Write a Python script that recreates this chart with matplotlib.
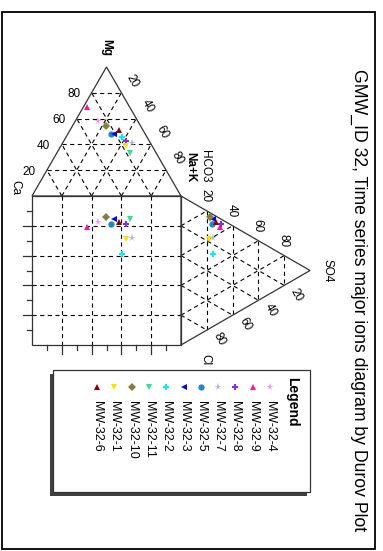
import matplotlib
matplotlib.use("Agg")
import matplotlib.pyplot as plt
from matplotlib.patches import Rectangle, Polygon

plt.rcParams['font.family'] = ['Liberation Sans', 'DejaVu Sans']
plt.rcParams['lines.scale_dashes'] = False

# ---------------- data ----------------
samples = ["MW-32-4", "MW-32-9", "MW-32-8", "MW-32-7", "MW-32-5", "MW-32-3",
           "MW-32-2", "MW-32-11", "MW-32-10", "MW-32-1", "MW-32-6"]
# cation percentages
ca  = [26.3, 28.3, 15.7, 12.6, 23.4, 20.9, 17.1, 17.4, 23.7, 17.6, 15.8]
mg  = [58.5, 69.0, 42.6, 40.9, 47.8, 48.1, 45.5, 33.6, 53.9, 39.0, 51.2]
nak = [15.2,  2.7, 41.7, 46.5, 28.8, 31.0, 37.4, 49.0, 22.4, 43.4, 33.0]
# anion percentages
so4 = [25.6, 30.0, 31.0, 24.8, 24.0, 24.8, 24.8, 22.2, 22.5, 21.5, 27.1]
cl  = [ 4.4,  5.8,  3.3, 15.8,  6.8,  3.0, 26.7,  4.3,  2.6, 18.1,  3.7]
hco3 = [100 - a - b for a, b in zip(so4, cl)]

colors = ["#ff8cf0", "#ff1493", "#8a2be2", "#b4b4dc", "#1e88c8", "#0000ff",
          "#00f0ff", "#33e08a", "#808040", "#f5e400", "#8b0000"]
markers = ["*", "^", "P", "*", "o", "<", "P", "v", "D", "v", "^"]

grid_vals = [20, 40, 60, 80]
tick_vals = [10, 20, 30, 40, 50, 60, 70, 80, 90]
title = "GMW_ID 32, Time series major ions diagram by Durov Plot"

# ---------------- geometry (screen pixels, chart rotated 90 deg) ----------------
W, H = 383, 551
SX0, SY0, S = 32.0, 196.0, 149.0      # square left, top, side
TH = S * 0.8660254                    # triangle height


def cat_xy(c, m, n):
    return SX0 + (n + m / 2) / 100 * S, SY0 - m / 100 * TH


def an_xy(h, s, c):
    return SX0 + S + s / 100 * TH, SY0 + (c + s / 2) / 100 * S


fig = plt.figure(figsize=(W / 100, H / 100), dpi=100)
ax = fig.add_axes([0, 0, 1, 1])
ax.set_xlim(0, W)
ax.set_ylim(H, 0)
ax.axis("off")

# outer border
ax.add_patch(Rectangle((1.5, 11.5), 373, 537.5, fill=False, ec="black", lw=1.3))

dash_kw = dict(color="black", lw=0.8, dashes=(3.0, 2.5), zorder=2)

# cation triangle
ax.add_patch(Polygon([cat_xy(100, 0, 0), cat_xy(0, 100, 0), cat_xy(0, 0, 100)],
                     closed=True, fill=False, ec="#333333", lw=0.9, zorder=3))
for g in grid_vals:
    p1, p2 = cat_xy(100 - g, g, 0), cat_xy(0, g, 100 - g)
    ax.plot([p1[0], p2[0]], [p1[1], p2[1]], **dash_kw)
    p1, p2 = cat_xy(g, 0, 100 - g), cat_xy(g, 100 - g, 0)
    ax.plot([p1[0], p2[0]], [p1[1], p2[1]], **dash_kw)
    p1, p2 = cat_xy(100 - g, 0, g), cat_xy(0, 100 - g, g)
    ax.plot([p1[0], p2[0]], [p1[1], p2[1]], **dash_kw)

# anion triangle
ax.add_patch(Polygon([an_xy(100, 0, 0), an_xy(0, 100, 0), an_xy(0, 0, 100)],
                     closed=True, fill=False, ec="#333333", lw=0.9, zorder=3))
for g in grid_vals:
    p1, p2 = an_xy(100 - g, g, 0), an_xy(0, g, 100 - g)
    ax.plot([p1[0], p2[0]], [p1[1], p2[1]], **dash_kw)
    p1, p2 = an_xy(g, 0, 100 - g), an_xy(g, 100 - g, 0)
    ax.plot([p1[0], p2[0]], [p1[1], p2[1]], **dash_kw)
    p1, p2 = an_xy(100 - g, 0, g), an_xy(0, 100 - g, g)
    ax.plot([p1[0], p2[0]], [p1[1], p2[1]], **dash_kw)

# square
ax.add_patch(Rectangle((SX0, SY0), S, S, fill=False, ec="#333333", lw=0.9, zorder=3))
for g in grid_vals:
    x = SX0 + g / 100 * S
    ax.plot([x, x], [SY0, SY0 + S], **dash_kw)
    y = SY0 + g / 100 * S
    ax.plot([SX0, SX0 + S], [y, y], **dash_kw)
for t in tick_vals:
    major = t % 20 == 0
    x = SX0 + t / 100 * S
    ax.plot([x, x], [SY0 + S, SY0 + S + (9 if major else 5)], color="#333333", lw=0.9)
    y = SY0 + t / 100 * S
    ax.plot([SX0 - (9 if major else 5), SX0], [y, y], color="#333333", lw=0.9)

# tick labels
fs = 8.5
for g in grid_vals:
    x, y = cat_xy(100 - g, g, 0)
    ax.text(x - 18, y + 1.5, str(g), fontsize=fs, ha="center", va="center")
    x, y = cat_xy(0, 100 - g, g)
    ax.text(x + 11, y - 12, str(g), fontsize=fs, ha="center", va="center", rotation=-60)
    x, y = an_xy(100 - g, g, 0)
    ax.text(x - 1, y - 15, str(g), fontsize=fs, ha="center", va="center", rotation=-90)
    x, y = an_xy(0, 100 - g, g)
    ax.text(x + 12.5, y + 9.5, str(g), fontsize=fs, ha="center", va="center", rotation=-60)

# vertex labels
x, y = cat_xy(0, 100, 0)
ax.text(x, y - 19, "Mg", fontsize=fs, fontweight="bold", ha="center", va="center", rotation=-90)
x, y = cat_xy(100, 0, 0)
ax.text(x - 17, y - 9, "Ca", fontsize=fs, ha="center", va="center", rotation=-90)
x, y = cat_xy(0, 0, 100)
ax.text(x + 9, y - 29, "Na+K", fontsize=fs, fontweight="bold", ha="center", va="center", rotation=-90)
ax.text(x + 24, y - 30, "HCO3", fontsize=fs, ha="center", va="center", rotation=-90)
x, y = an_xy(0, 100, 0)
ax.text(x + 17, y, "SO4", fontsize=fs, ha="center", va="center", rotation=-90)
x, y = an_xy(0, 0, 100)
ax.text(x + 24, y + 15, "Cl", fontsize=fs, ha="center", va="center", rotation=-90)

# data points
for i, name in enumerate(samples):
    cx, cy = cat_xy(ca[i], mg[i], nak[i])
    axp, ayp = an_xy(hco3[i], so4[i], cl[i])
    ax.plot([cx, axp, cx], [cy, ayp, ayp], ls="none", marker=markers[i],
            color=colors[i], ms=5.5 if markers[i] == "*" else 4.5, mew=0, zorder=5)

# title
ax.text(359, 300, title, fontsize=12.7, ha="center", va="center", rotation=-90)

# legend
ax.add_patch(Rectangle((50, 374), 257, 122, fc="#404040", ec="none", zorder=6))
ax.add_patch(Rectangle((53, 370), 257, 122, fc="white", ec="#333333", lw=0.9, zorder=7))
ax.text(292, 377, "Legend", fontsize=10, fontweight="bold", rotation=-90,
        rotation_mode="anchor", ha="left", va="center", zorder=8)
for i, name in enumerate(samples):
    lx = 270 - 17.3 * i
    ax.plot([lx], [387], ls="none", marker=markers[i], color=colors[i],
            ms=5.5 if markers[i] == "*" else 4.5, mew=0, zorder=8)
    ax.text(lx, 401, name, fontsize=9, rotation=-90, rotation_mode="anchor",
            ha="left", va="center", zorder=8)

fig.savefig("out.png", dpi=100, facecolor="white")
